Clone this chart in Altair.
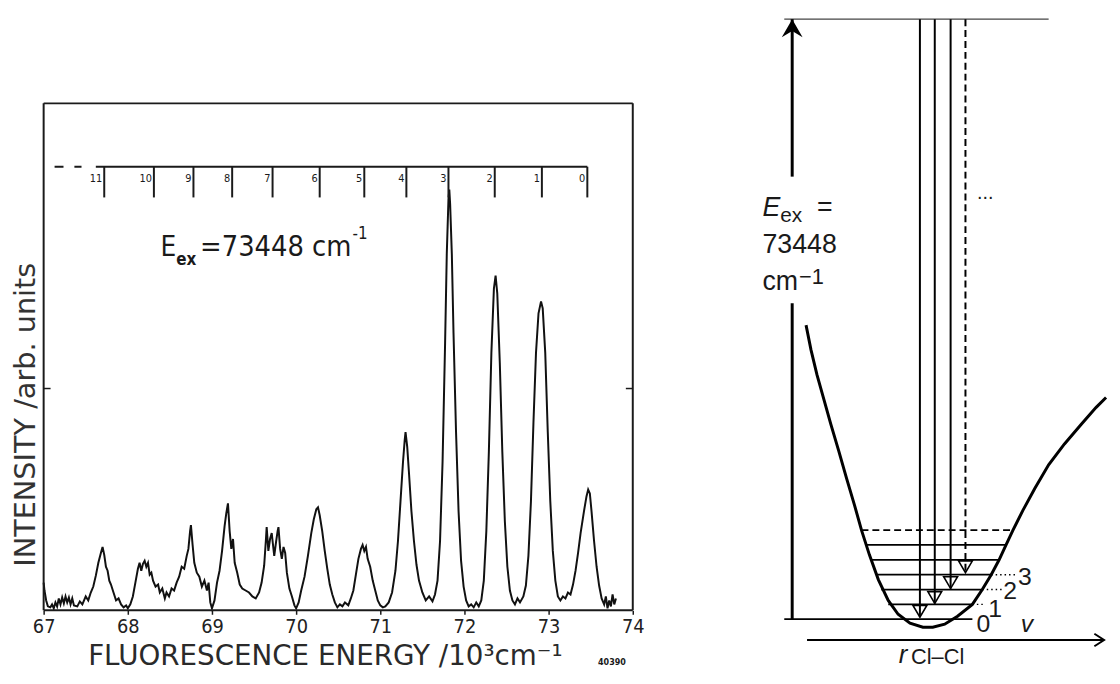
import altair as alt
import pandas as pd

# ---------------- left panel: fluorescence spectrum ----------------
spectrum_trace = [
    (67.00, 28), (67.01, 20), (67.03, 10), (67.05, 4), (67.08, 3), (67.10, 6), (67.12, 2), (67.14, 8),
    (67.16, 4), (67.18, 12), (67.20, 6), (67.22, 13), (67.24, 7), (67.26, 14), (67.28, 8), (67.30, 13),
    (67.32, 6), (67.34, 12), (67.36, 5), (67.40, 4), (67.43, 9), (67.46, 6), (67.50, 14), (67.53, 10),
    (67.56, 18), (67.59, 24), (67.62, 35), (67.65, 48), (67.68, 58), (67.70, 64), (67.72, 56), (67.74, 44),
    (67.76, 40), (67.78, 30), (67.80, 26), (67.83, 18), (67.86, 10), (67.89, 12), (67.92, 6), (67.95, 3),
    (67.98, 5), (68.00, 2), (68.03, 6), (68.06, 14), (68.09, 28), (68.12, 42), (68.14, 48), (68.16, 40),
    (68.18, 47), (68.20, 50), (68.22, 44), (68.24, 48), (68.26, 36), (68.28, 38), (68.30, 30), (68.33, 24),
    (68.36, 26), (68.38, 18), (68.41, 22), (68.44, 12), (68.46, 18), (68.49, 14), (68.52, 22), (68.55, 20),
    (68.58, 28), (68.61, 34), (68.64, 44), (68.67, 42), (68.70, 55), (68.72, 62), (68.74, 80), (68.75, 86),
    (68.77, 66), (68.79, 48), (68.82, 38), (68.85, 34), (68.88, 24), (68.91, 30), (68.94, 20), (68.96, 28),
    (68.98, 8), (69.00, 2), (69.03, 10), (69.06, 28), (69.09, 40), (69.12, 60), (69.15, 85), (69.17, 98),
    (69.19, 108), (69.21, 80), (69.23, 62), (69.25, 72), (69.27, 48), (69.30, 38), (69.33, 26), (69.36, 22),
    (69.40, 20), (69.44, 18), (69.48, 14), (69.52, 12), (69.56, 18), (69.59, 28), (69.62, 45), (69.64, 70),
    (69.65, 84), (69.67, 60), (69.69, 72), (69.71, 78), (69.72, 70), (69.74, 55), (69.76, 68), (69.78, 80),
    (69.79, 84), (69.81, 62), (69.83, 52), (69.85, 64), (69.87, 58), (69.89, 38), (69.92, 22), (69.95, 14),
    (69.98, 5), (70.00, 2), (70.03, 8), (70.06, 20), (70.10, 34), (70.14, 55), (70.18, 78), (70.21, 92),
    (70.24, 102), (70.26, 104), (70.28, 96), (70.31, 80), (70.34, 60), (70.37, 42), (70.40, 26), (70.43, 16),
    (70.46, 8), (70.49, 3), (70.52, 6), (70.55, 4), (70.58, 8), (70.62, 5), (70.65, 12), (70.68, 20),
    (70.71, 36), (70.74, 52), (70.77, 62), (70.79, 66), (70.81, 60), (70.83, 64), (70.85, 52), (70.88, 44),
    (70.91, 30), (70.94, 20), (70.97, 10), (71.00, 5), (71.03, 3), (71.06, 4), (71.10, 8), (71.14, 18),
    (71.18, 40), (71.21, 70), (71.24, 110), (71.27, 150), (71.29, 172), (71.30, 180), (71.32, 165), (71.34, 140),
    (71.37, 100), (71.40, 70), (71.43, 46), (71.46, 30), (71.50, 18), (71.54, 10), (71.58, 14), (71.62, 9),
    (71.65, 16), (71.68, 30), (71.71, 70), (71.74, 150), (71.77, 270), (71.79, 360), (71.81, 415), (71.82, 425),
    (71.83, 410), (71.85, 360), (71.87, 280), (71.90, 180), (71.93, 100), (71.96, 50), (71.99, 24), (72.02, 10),
    (72.05, 4), (72.08, 6), (72.11, 3), (72.14, 8), (72.17, 4), (72.20, 10), (72.23, 30), (72.26, 80),
    (72.29, 160), (72.32, 260), (72.35, 325), (72.37, 338), (72.39, 320), (72.42, 250), (72.45, 160), (72.48, 90),
    (72.51, 44), (72.54, 20), (72.57, 10), (72.60, 6), (72.63, 12), (72.66, 8), (72.70, 14), (72.73, 25),
    (72.76, 55), (72.79, 110), (72.82, 190), (72.85, 260), (72.88, 300), (72.91, 312), (72.93, 305), (72.96, 260),
    (72.99, 180), (73.02, 110), (73.05, 60), (73.08, 30), (73.11, 14), (73.14, 10), (73.17, 14), (73.20, 12),
    (73.23, 18), (73.26, 16), (73.29, 26), (73.32, 40), (73.35, 58), (73.38, 78), (73.42, 100), (73.45, 115),
    (73.47, 122), (73.49, 118), (73.51, 100), (73.54, 70), (73.57, 44), (73.60, 25), (73.63, 12), (73.66, 6),
    (73.68, 14), (73.70, 2), (73.72, 10), (73.74, 4), (73.76, 16), (73.78, 6), (73.80, 12),
]
progression_v = ["11", "10", "9", "8", "7", "6", "5", "4", "3", "2", "1", "0"]
progression_E = [67.72, 68.31, 68.78, 69.24, 69.72, 70.28, 70.81, 71.31, 71.81, 72.36, 72.92, 73.46]
energy_ticks = [67, 68, 69, 70, 71, 72, 73, 74]

E_MIN, E_MAX = 67.0, 74.0
VIEW_TOP = 605          # top of the drawing area (arb. intensity units)
FRAME_TOP = 512         # top edge of the frame
INTENSITY_TICK = 224    # the single intensity tick mark on the frame
RULER_Y, RULER_TICK_END, RULER_LABEL_Y = 448, 417, 436
RULER_START = 67.62
RULER_DASH = (67.13, 67.45)

# ---------------- right panel: potential-energy diagram (schematic units) ----------------
pec_r = [47, 52, 58, 65, 72, 80, 88, 96, 103, 111, 120, 130, 140, 152, 165, 175, 187, 200, 215, 225,
         234, 242, 249, 256, 266, 278, 292, 308, 325, 340, 350]
pec_E = [345, 320, 295, 270, 245, 218, 190, 163, 138, 113, 88, 67, 53, 44, 40, 40, 43, 51, 63, 78,
         93, 108, 123, 138, 158, 180, 204, 225, 245, 262, 272]
level_E = [48, 63, 78, 93, 108, 123]
level_r_from = [25, 130, 123, 118, 112, 108]
level_r_to = [215, 215, 225, 234, 242, 249]
dashed_level = (138, 103, 256)            # E, r_from, r_to
dotted_E = [63, 78, 93]
dotted_r_from = [215, 225, 234]
dotted_r_to = [228, 245, 260]
emission_r = [162, 177, 193, 208]
emission_tip_E = [50, 64, 79, 95]
emission_style = ["solid", "solid", "solid", "dashed"]
UPPER_E, UPPER_R = 654, (25, 292)
EXC_R = 33
exc_seg_from = [48, 495]
exc_seg_to = [367, 654]
AXIS_E, AXIS_R = 27, (48, 348)

FONT_SCAN = "'DejaVu Sans Condensed', 'Liberation Sans Narrow', 'DejaVu Sans', sans-serif"
FONT_TITLE = "'DejaVu Sans', sans-serif"
FONT_DIAG = "'Liberation Sans', Arial, sans-serif"
INK = "#1a1a1a"
ONE = pd.DataFrame({"k": [0]})


def ptext(text, px, py, size, font, align="left", italic=False, weight="normal", color=INK):
    return alt.Chart(ONE).mark_text(
        text=text, align=align, baseline="alphabetic", fontSize=size, font=font,
        fontStyle="italic" if italic else "normal", fontWeight=weight, color=color,
    ).encode(x=alt.value(px), y=alt.value(py))


# ======================= LEFT =======================
xs = alt.Scale(domain=[E_MIN, E_MAX], nice=False, zero=False)
ys = alt.Scale(domain=[0, VIEW_TOP], nice=False, zero=False)
AX = alt.Axis(
    values=energy_ticks, format="d", grid=False, domain=False, labelFlush=False,
    tickSize=4, tickColor=INK, tickWidth=1.5, labelPadding=2,
    labelFont=FONT_SCAN, labelFontSize=20, labelColor="#222",
    title="FLUORESCENCE ENERGY /10³cm⁻¹", titleFont=FONT_TITLE, titleFontSize=28,
    titleFontWeight="normal", titleColor="#2a2a2a", titleX=284, titleY=55,
    titleBaseline="alphabetic")
AY = alt.Axis(
    labels=False, ticks=False, domain=False, grid=False,
    title="INTENSITY /arb. units", titleFont=FONT_TITLE, titleFontSize=29,
    titleFontWeight="normal", titleColor="#333", titleX=-18, titleY=407,
    titleBaseline="middle")


def LX(f):
    return alt.X(f, scale=xs, axis=AX)


def LY(f):
    return alt.Y(f, scale=ys, axis=AY)


spec_df = pd.DataFrame(spectrum_trace, columns=["E", "I"])
trace = alt.Chart(spec_df).mark_line(color="#111", strokeWidth=2).encode(x=LX("E:Q"), y=LY("I:Q"))

frame_df = pd.DataFrame({
    "E": [E_MIN, E_MIN, E_MAX, E_MIN],
    "E2": [E_MAX, E_MIN, E_MAX, E_MAX],
    "I": [0, 0, 0, FRAME_TOP],
    "I2": [0, FRAME_TOP, FRAME_TOP, FRAME_TOP],
})
frame = alt.Chart(frame_df).mark_rule(color=INK, strokeWidth=2).encode(
    x=LX("E:Q"), x2="E2:Q", y=LY("I:Q"), y2="I2:Q")

itick_df = pd.DataFrame({"I": [INTENSITY_TICK]})
itick_l = alt.Chart(itick_df).mark_rule(color=INK, strokeWidth=1.5).encode(
    x=alt.value(0), x2=alt.value(7), y=LY("I:Q"))
itick_r = alt.Chart(itick_df).mark_rule(color=INK, strokeWidth=1.5).encode(
    x=alt.value(588), x2=alt.value(595), y=LY("I:Q"))

ruler_df = pd.DataFrame({"E": [RULER_START], "E2": [progression_E[-1]], "I": [RULER_Y]})
ruler = alt.Chart(ruler_df).mark_rule(color=INK, strokeWidth=2).encode(
    x=LX("E:Q"), x2="E2:Q", y=LY("I:Q"))
dash_df = pd.DataFrame({"E": [RULER_DASH[0]], "E2": [RULER_DASH[1]], "I": [RULER_Y]})
ruler_dash = alt.Chart(dash_df).mark_rule(color=INK, strokeWidth=2, strokeDash=[9, 11]).encode(
    x=LX("E:Q"), x2="E2:Q", y=LY("I:Q"))

prog_df = pd.DataFrame({"E": progression_E, "v": progression_v,
                        "I": [RULER_Y] * len(progression_E),
                        "I2": [RULER_TICK_END] * len(progression_E),
                        "IL": [RULER_LABEL_Y] * len(progression_E)})
ruler_ticks = alt.Chart(prog_df).mark_rule(color=INK, strokeWidth=2).encode(
    x=LX("E:Q"), y=LY("I:Q"), y2="I2:Q")
ruler_labels = alt.Chart(prog_df).mark_text(
    align="right", baseline="middle", dx=-2, fontSize=11, font=FONT_SCAN, color=INK
).encode(x=LX("E:Q"), y=LY("IL:Q"), text="v:N")

left = alt.layer(
    trace, frame, itick_l, itick_r, ruler, ruler_dash, ruler_ticks, ruler_labels,
    ptext("E", 118, 247, 28, FONT_SCAN),
    ptext("ex", 134, 256, 17, FONT_SCAN, weight="bold"),
    ptext("=73448 cm", 158, 247, 29, FONT_SCAN),
    ptext("-1", 312, 230, 17, FONT_SCAN),
    ptext("40390", 574, 660, 9, FONT_SCAN, align="center", weight="bold"),
).properties(width=595, height=VIEW_TOP)

# ======================= RIGHT =======================
rs = alt.Scale(domain=[0, 350], nice=False, zero=False)
es = alt.Scale(domain=[0, 662], nice=False, zero=False)


def X(f):
    return alt.X(f, scale=rs, axis=None)


def Y(f):
    return alt.Y(f, scale=es, axis=None)


pec_df = pd.DataFrame({"r": pec_r, "E": pec_E, "o": list(range(len(pec_r)))})
pec = alt.Chart(pec_df).mark_line(color="#000", strokeWidth=3).encode(
    x=X("r:Q"), y=Y("E:Q"), order="o:Q")

lev_df = pd.DataFrame({"E": level_E, "r": level_r_from, "r2": level_r_to})
levels = alt.Chart(lev_df).mark_rule(color="#000", strokeWidth=1.8).encode(
    x=X("r:Q"), x2="r2:Q", y=Y("E:Q"))

dl_df = pd.DataFrame({"E": [dashed_level[0]], "r": [dashed_level[1]], "r2": [dashed_level[2]]})
dlevel = alt.Chart(dl_df).mark_rule(color="#000", strokeWidth=1.8, strokeDash=[7, 4]).encode(
    x=X("r:Q"), x2="r2:Q", y=Y("E:Q"))

dot_df = pd.DataFrame({"E": dotted_E, "r": dotted_r_from, "r2": dotted_r_to})
dots = alt.Chart(dot_df).mark_rule(color="#000", strokeWidth=1.5, strokeDash=[1.5, 3]).encode(
    x=X("r:Q"), x2="r2:Q", y=Y("E:Q"))

em_df = pd.DataFrame({"r": emission_r, "E": [UPPER_E] * 4, "E2": emission_tip_E, "s": emission_style})
emissions = alt.Chart(em_df).mark_rule(color="#000", strokeWidth=2).encode(
    x=X("r:Q"), y=Y("E:Q"), y2="E2:Q",
    strokeDash=alt.StrokeDash("s:N", scale=alt.Scale(domain=["solid", "dashed"], range=[[1, 0], [7, 4]]),
                              legend=None))
em_heads = alt.Chart(em_df).mark_point(
    shape="M-1,-1.7L1,-1.7L0,0Z", size=196, filled=False, color="#000", strokeWidth=1.6, opacity=1
).encode(x=X("r:Q"), y=Y("E2:Q"))

up_df = pd.DataFrame({"E": [UPPER_E], "r": [UPPER_R[0]], "r2": [UPPER_R[1]]})
upper = alt.Chart(up_df).mark_rule(color="#444", strokeWidth=1.3).encode(
    x=X("r:Q"), x2="r2:Q", y=Y("E:Q"))

exc_df = pd.DataFrame({"r": [EXC_R, EXC_R], "E": exc_seg_from, "E2": exc_seg_to})
exc = alt.Chart(exc_df).mark_rule(color="#000", strokeWidth=3).encode(
    x=X("r:Q"), y=Y("E:Q"), y2="E2:Q")
exc_head = alt.Chart(pd.DataFrame({"r": [EXC_R], "E": [UPPER_E]})).mark_point(
    shape="M0,0L0.75,1.3L0,0.85L-0.75,1.3Z", size=784, filled=True, color="#000", opacity=1
).encode(x=X("r:Q"), y=Y("E:Q"))

ax_df = pd.DataFrame({"E": [AXIS_E], "r": [AXIS_R[0]], "r2": [AXIS_R[1]]})
raxis = alt.Chart(ax_df).mark_rule(color="#000", strokeWidth=2).encode(
    x=X("r:Q"), x2="r2:Q", y=Y("E:Q"))
raxis_head = alt.Chart(pd.DataFrame({"r": [AXIS_R[1]], "E": [AXIS_E]})).mark_point(
    shape="M-1.4,-0.9L0,0L-1.4,0.9", size=196, filled=False, color="#000", strokeWidth=2, opacity=1
).encode(x=X("r:Q"), y=Y("E:Q"))

right = alt.layer(
    upper, pec, levels, dlevel, dots, emissions, em_heads, exc, exc_head, raxis, raxis_head,
    ptext("E", 3, 207, 27, FONT_DIAG, italic=True),
    ptext("ex", 21, 213, 21, FONT_DIAG),
    ptext("=", 58, 207, 27, FONT_DIAG),
    ptext("73448", 3, 244, 27, FONT_DIAG),
    ptext("cm", 3, 281, 27, FONT_DIAG),
    ptext("−1", 40, 275, 22, FONT_DIAG),
    ptext("...", 228, 190, 20, FONT_DIAG, align="center"),
    ptext("0", 226, 627, 25, FONT_DIAG, align="center"),
    ptext("1", 238, 612, 25, FONT_DIAG, align="center"),
    ptext("2", 253, 594, 25, FONT_DIAG, align="center"),
    ptext("3", 268, 579, 25, FONT_DIAG, align="center"),
    ptext("v", 270, 627, 25, FONT_DIAG, align="center", italic=True),
    ptext("r", 145, 658, 26, FONT_DIAG, align="center", italic=True),
    ptext("Cl–Cl", 153, 659, 22, FONT_DIAG),
).properties(width=350, height=662)

chart = alt.hconcat(left, right, spacing=116).properties(
    padding={"left": 4, "top": 0, "right": 0, "bottom": 0}, background="white"
).configure_view(stroke=None)

chart.save("out.html", embed_options={"renderer": "svg", "actions": False})
